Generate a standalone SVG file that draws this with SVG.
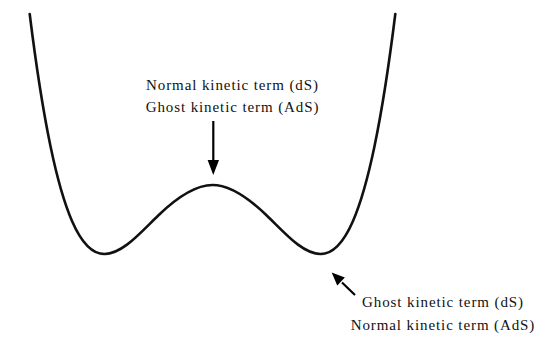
<svg xmlns="http://www.w3.org/2000/svg" width="554" height="345" viewBox="0 0 554 345">
<style>
.curve{fill:none;stroke:#111;stroke-width:2.6;stroke-linecap:round;stroke-linejoin:round}
.shaft{stroke:#000;stroke-width:2.2;fill:none}
.head{fill:#000;stroke:none}
.lbl{font-family:"Liberation Serif","Times New Roman",serif;font-size:15px;fill:#111;letter-spacing:0.9px;text-anchor:middle}
</style>
<rect width="554" height="345" fill="#fff"/>
<g id="potential">
<path class="curve" d="M29.7,14 C36.63,69.93 43.57,112.97 50.5,146.19 C57.7,180.69 64.9,204.64 72.1,221.15 C82.9,245.91 93.7,254 104.5,254 C122.5,254 140.5,232.44 158.5,215.19 C176.5,197.94 194.5,185 212.5,185 C230.5,185 248.5,197.94 266.5,215.19 C284.5,232.44 302.5,254 320.5,254 C331.3,254 342.1,245.91 352.9,221.15 C360.1,204.64 367.3,180.69 374.5,146.19 C381.43,112.97 388.37,69.93 395.3,14"/>
</g>
<g id="label-top">
<text class="lbl" x="232.5" y="90">Normal kinetic term (dS)</text>
<text class="lbl" x="232.5" y="112">Ghost kinetic term (AdS)</text>
</g>
<g id="label-bottom">
<text class="lbl" x="443" y="307">Ghost kinetic term (dS)</text>
<text class="lbl" x="443" y="329.5">Normal kinetic term (AdS)</text>
</g>
<g id="connectors">
<line class="shaft" x1="213.3" y1="121" x2="213.3" y2="162"/>
<polygon class="head" points="213.3,175 207.6,160 219,160"/>
<line class="shaft" x1="355" y1="295" x2="342" y2="282.5"/>
<polygon class="head" points="331.7,272.5 344.87,277.57 337.23,285.47"/>
</g>
</svg>
